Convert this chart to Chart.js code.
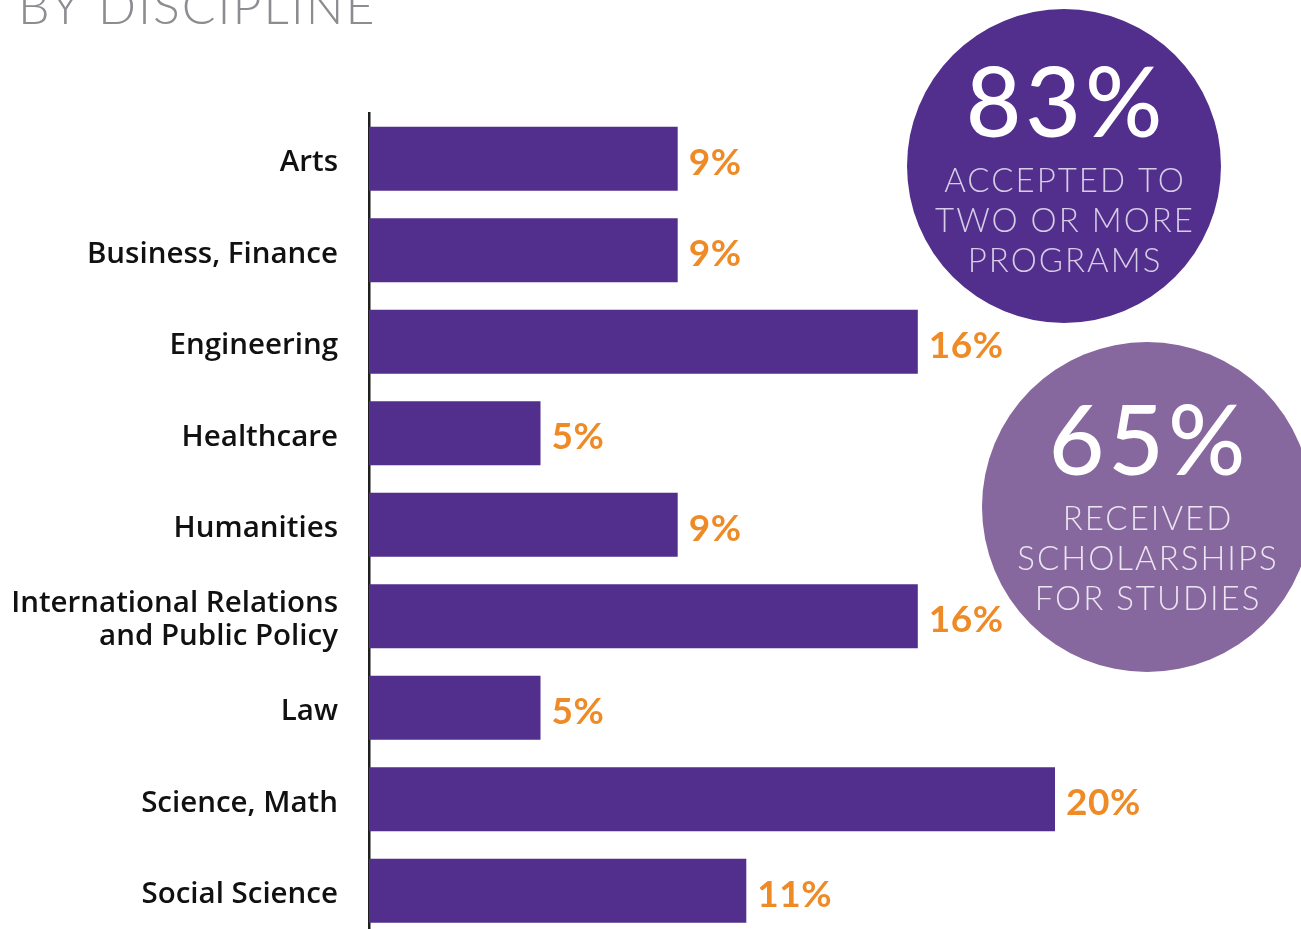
<!DOCTYPE html>
<html>
<head>
<meta charset="utf-8">
<script src="https://cdn.jsdelivr.net/npm/chart.js@4/dist/chart.umd.min.js"></script>
<style>
  html, body { margin: 0; padding: 0; background: #fff; overflow: hidden; }
  #grafico { display: block; }
</style>
</head>
<body>
<canvas id="grafico" width="1301" height="984"></canvas>
<script>
// --- dados ---
const disciplinas = [
  'Arts',
  'Business, Finance',
  'Engineering',
  'Healthcare',
  'Humanities',
  ['International Relations', 'and Public Policy'],
  'Law',
  'Science, Math',
  'Social Science'
];
const percentuais = [9, 9, 16, 5, 9, 16, 5, 20, 11];

const titulo = 'BY DISCIPLINE';
const destaqueValores = ['83%', '65%'];
const destaqueTextos = [
  ['ACCEPTED TO', 'TWO OR MORE', 'PROGRAMS'],
  ['RECEIVED', 'SCHOLARSHIPS', 'FOR STUDIES']
];

const ROXO = '#522e8d';
const LILAS = '#86679e';
const LARANJA = '#ef8b26';

// desenha rótulos de valor, título e os círculos de destaque
const decoracao = {
  id: 'decoracao',
  afterDatasetsDraw(chart) {
    const ctx = chart.ctx;
    const meta = chart.getDatasetMeta(0);
    ctx.save();
    ctx.fillStyle = LARANJA;
    ctx.font = '700 37px Lato';
    ctx.letterSpacing = '0.5px';
    ctx.textAlign = 'left';
    ctx.textBaseline = 'alphabetic';
    meta.data.forEach((barra, i) => {
      ctx.fillText(percentuais[i] + '%', barra.x + 11, barra.y + 16);
    });
    ctx.restore();
  },
  afterDraw(chart) {
    const ctx = chart.ctx;
    ctx.save();

    // título cortado no topo
    ctx.fillStyle = '#8c8c91';
    ctx.font = '300 50px Lato';
    ctx.letterSpacing = '2px';
    ctx.textAlign = 'left';
    ctx.fillText(titulo, 18, 24);

    const circulos = [
      { x: 1064, y: 166, r: 157, cor: ROXO, texto: '#d6cce6' },
      { x: 1147, y: 507, r: 165, cor: LILAS, texto: '#ebe4f1' }
    ];
    circulos.forEach((c, i) => {
      ctx.beginPath();
      ctx.arc(c.x, c.y, c.r, 0, Math.PI * 2);
      ctx.fillStyle = c.cor;
      ctx.fill();

      ctx.textAlign = 'center';
      ctx.letterSpacing = '4px';
      ctx.fillStyle = '#ffffff';
      ctx.font = '500 96px Lato';
      const base = i === 0 ? 137 : 475;
      ctx.fillText(destaqueValores[i], c.x + 2, base);

      ctx.fillStyle = c.texto;
      ctx.font = '300 33px Lato';
      ctx.letterSpacing = '2px';
      destaqueTextos[i].forEach((linha, j) => {
        ctx.fillText(linha, c.x + 1, base + 55 + j * 40);
      });
    });
    ctx.restore();
  }
};

document.addEventListener('DOMContentLoaded', () => {
  const ctx = document.getElementById('grafico').getContext('2d');

  new Chart(ctx, {
    type: 'bar',
    data: {
      labels: disciplinas,
      datasets: [{
        data: percentuais,
        backgroundColor: ROXO,
        borderWidth: 0,
        barPercentage: 0.7,
        categoryPercentage: 1
      }]
    },
    options: {
      indexAxis: 'y',
      responsive: false,
      animation: false,
      devicePixelRatio: 1,
      // o eixo y reserva metade do rótulo + padding embaixo (~47px)
      layout: { padding: { top: 113, bottom: 0, left: 0, right: 74.5 } },
      plugins: {
        legend: { display: false },
        tooltip: { enabled: false }
      },
      scales: {
        x: { display: false, min: 0, max: 25 },
        y: {
          afterFit(scale) { scale.width = 369; },
          grid: { display: false, drawTicks: false },
          border: { display: true, color: '#1e1e1e', width: 2.5 },
          ticks: {
            padding: 31,
            labelOffset: 4,
            color: '#111',
            font: { family: 'Open Sans', size: 29.5, weight: '600', lineHeight: 1.12 }
          }
        }
      }
    },
    plugins: [decoracao]
  });
});
</script>
</body>
</html>
